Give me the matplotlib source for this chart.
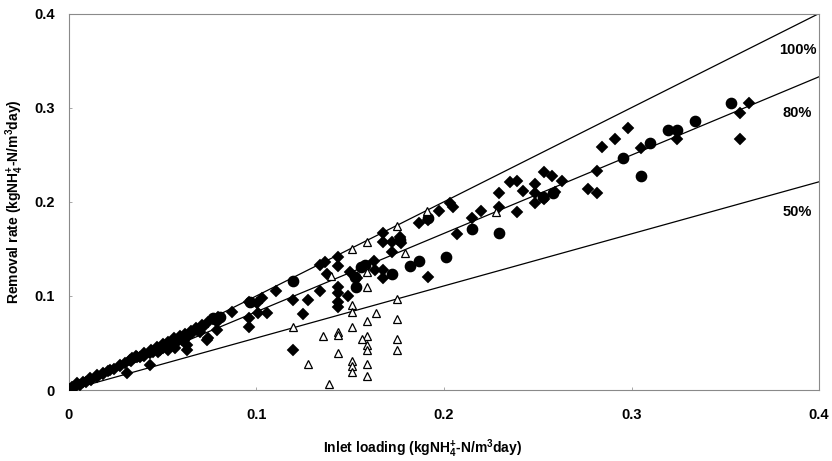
"""
Ammonium removal rate against inlet loading, with 100/80/50 % reference lines
"""

import matplotlib.pyplot as plt
import numpy as np

plt.rcParams["font.family"] = ["Liberation Sans", "DejaVu Sans"]
plt.rcParams["font.weight"] = "bold"
plt.rcParams["mathtext.fontset"] = "custom"
plt.rcParams["mathtext.rm"] = "Liberation Sans:bold"
plt.rcParams["mathtext.it"] = "Liberation Sans:bold"
plt.rcParams["mathtext.bf"] = "Liberation Sans:bold"

# Filled diamonds (main data set)
diamond_x = [
    0.3626, 0.3577, 0.3577, 0.3245, 0.3053, 0.2981, 0.2910, 0.2840, 0.2816, 0.2768,
    0.2816, 0.2532, 0.2578, 0.2630, 0.2484, 0.2422, 0.2484, 0.2484, 0.2532, 0.2591,
    0.2354, 0.2390, 0.2292, 0.2292, 0.2390, 0.2200, 0.2150, 0.2070, 0.2031, 0.2049,
    0.1974, 0.1866, 0.1915, 0.1915, 0.1102, 0.1196, 0.1276, 0.1246, 0.1338, 0.1436,
    0.1436, 0.1436, 0.1436, 0.1490, 0.1498, 0.1534, 0.1374, 0.1338, 0.1365, 0.1436,
    0.1436, 0.1675, 0.1675, 0.1724, 0.1768, 0.1773, 0.1724, 0.1627, 0.1631, 0.1675,
    0.1675, 0.1196, 0.1054, 0.1009, 0.0961, 0.0961, 0.1027, 0.1001, 0.0961, 0.0867,
    0.0787, 0.0743, 0.0716, 0.0698, 0.0796, 0.0787, 0.0681, 0.0654, 0.0627, 0.0601,
    0.0565, 0.0627, 0.0538, 0.0503, 0.0476, 0.0432, 0.0396, 0.0361, 0.0334, 0.0734,
    0.0627, 0.0574, 0.0565, 0.0529, 0.0485, 0.0432, 0.0378, 0.0325, 0.0308, 0.0272,
    0.0219, 0.0183, 0.0148, 0.0112, 0.0076, 0.0041, 0.0014, 0.0005,
    0.036, 0.040, 0.044, 0.047, 0.050, 0.053, 0.056, 0.059, 0.062, 0.065,
    0.068, 0.071, 0.074, 0.077, 0.003, 0.006, 0.009, 0.012, 0.015, 0.018,
    0.021, 0.024, 0.027, 0.030, 0.033, 0.045, 0.052, 0.058, 0.064, 0.040,
]
diamond_y = [
    0.3045, 0.2947, 0.2665, 0.2662, 0.2567, 0.2779, 0.2662, 0.2584, 0.2326, 0.2137,
    0.2089, 0.2318, 0.2273, 0.2223, 0.2184, 0.2113, 0.2089, 0.1989, 0.2025, 0.2106,
    0.2212, 0.2223, 0.2089, 0.1946, 0.1893, 0.1904, 0.1823, 0.1657, 0.1989, 0.1940,
    0.1901, 0.1777, 0.1805, 0.1203, 0.1051, 0.0956, 0.0956, 0.0807, 0.1051, 0.1097,
    0.1027, 0.0938, 0.0885, 0.0998, 0.1256, 0.1186, 0.1237, 0.1327, 0.1362, 0.1412,
    0.1322, 0.1667, 0.1575, 0.1575, 0.1628, 0.1558, 0.1469, 0.1373, 0.1274, 0.1274,
    0.1186, 0.0425, 0.0814, 0.0814, 0.0672, 0.0761, 0.0974, 0.0921, 0.0938, 0.0825,
    0.0637, 0.0549, 0.0672, 0.0619, 0.0778, 0.0725, 0.0637, 0.0602, 0.0566, 0.0531,
    0.0513, 0.0478, 0.0478, 0.0443, 0.0407, 0.0390, 0.0372, 0.0354, 0.0337, 0.0531,
    0.0425, 0.0531, 0.0443, 0.0425, 0.0425, 0.0265, 0.0354, 0.0319, 0.0177, 0.0265,
    0.0212, 0.0184, 0.0159, 0.0124, 0.0088, 0.0071, 0.0035, 0.0010,
    0.036, 0.039, 0.043, 0.046, 0.049, 0.051, 0.055, 0.057, 0.060, 0.063,
    0.066, 0.069, 0.072, 0.075, 0.003, 0.005, 0.009, 0.011, 0.014, 0.017,
    0.020, 0.022, 0.025, 0.029, 0.031, 0.040, 0.046, 0.052, 0.058, 0.036,
]

# Filled circles
circle_x = [
    0.3529, 0.3337, 0.3195, 0.3243, 0.3101, 0.2955, 0.3053, 0.2528, 0.2582, 0.2150,
    0.2292, 0.1818, 0.1866, 0.2010, 0.1764, 0.1915, 0.1196, 0.1530, 0.1525, 0.1578,
    0.1560, 0.1724, 0.0769, 0.0805, 0.0965,
]
circle_y = [
    0.3045, 0.2857, 0.2761, 0.2761, 0.2626, 0.2467, 0.2276, 0.2053, 0.2092, 0.1708,
    0.1664, 0.1322, 0.1373, 0.1418, 0.1593, 0.1823, 0.1157, 0.1097, 0.1197, 0.1327,
    0.1309, 0.1232, 0.0761, 0.0778, 0.0938,
]

# Open triangles
triangle_x = [
    0.1752, 0.1590, 0.1512, 0.1397, 0.1791, 0.1590, 0.1590, 0.1512, 0.1512, 0.1752,
    0.1636, 0.1590, 0.1752, 0.1196, 0.1512, 0.1356, 0.1436, 0.1436, 0.1590, 0.1562,
    0.1752, 0.1590, 0.1590, 0.1752, 0.1436, 0.1277, 0.1512, 0.1512, 0.1512, 0.1590,
    0.1590, 0.1388, 0.1912, 0.2275,
]
triangle_y = [
    0.1742, 0.1575, 0.1494, 0.1211, 0.1460, 0.1256, 0.1097, 0.0903, 0.0832, 0.0969,
    0.0823, 0.0733, 0.0751, 0.0672, 0.0672, 0.0577, 0.0619, 0.0584, 0.0577, 0.0542,
    0.0542, 0.0478, 0.0430, 0.0430, 0.0390, 0.0276, 0.0313, 0.0260, 0.0194, 0.0276,
    0.0149, 0.0064, 0.1901, 0.1890,
]

# Reference removal efficiencies (slope, label, label position)
ref_slopes = [1.0, 0.832, 0.553]
ref_labels = ["100%", "80%", "50%"]
ref_label_y = [0.361, 0.294, 0.189]

fig = plt.figure(figsize=(8.32, 4.61), dpi=100)
ax = fig.add_axes([0.0829, 0.154, 0.9015, 0.8167])

xline = np.array([0.0, 0.4])
for slope in ref_slopes:
    ax.plot(xline, slope * xline, color="black", lw=0.9, zorder=2)

ax.plot(diamond_x, diamond_y, "D", ms=6.2, color="black", mec="black", mew=0.3, ls="none", zorder=3)
ax.plot(circle_x, circle_y, "o", ms=7.4, color="black", ls="none", zorder=3)
ax.plot(triangle_x, triangle_y, "^", ms=6.2, mfc="white", mec="black", mew=0.9, ls="none", zorder=4)

for label, ly in zip(ref_labels, ref_label_y):
    ax.text(0.3885, ly, label, ha="center", va="center", fontsize=10.5, fontweight="bold")

ax.set_xlim(0, 0.4)
ax.set_ylim(0, 0.4)
ax.set_xticks([0, 0.1, 0.2, 0.3, 0.4])
ax.set_xticklabels(["0", "0.1", "0.2", "0.3", "0.4"])
ax.set_yticks([0, 0.1, 0.2, 0.3, 0.4])
ax.set_yticklabels(["0", "0.1", "0.2", "0.3", "0.4"])
ax.tick_params(direction="in", length=2.5, width=0.6, color="#999999", labelsize=10.5)
ax.tick_params(axis="x", pad=13)
ax.tick_params(axis="y", pad=10)

for spine in ax.spines.values():
    spine.set_color("#8a8a8a")
    spine.set_linewidth(0.8)
    spine.set_linestyle((0, (1, 1)))

ax.set_xlabel(r"Inlet loading (kgNH$_{4}^{+}$-N/m$^{3}$day)", fontsize=10, fontweight="bold")
ax.xaxis.set_label_coords(0.472, -0.125)
ax.set_ylabel(r"Removal rate (kgNH$_{4}^{+}$-N/m$^{3}$day)", fontsize=10, fontweight="bold", labelpad=6)

fig.savefig("out.png", dpi=100)
